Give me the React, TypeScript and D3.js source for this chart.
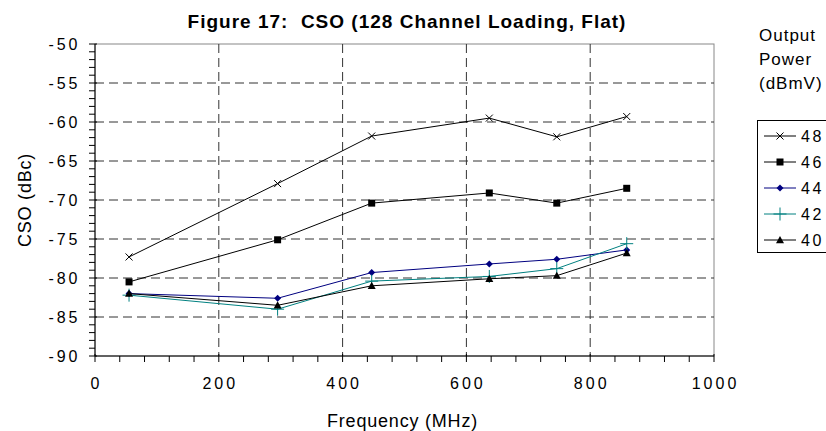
import React from "react";
import * as d3 from "d3";

const frequencies = [55, 295, 447, 637, 746, 859];
const seriesNames = ["48", "46", "44", "42", "40"];
const s48 = [-77.3, -67.9, -61.8, -59.5, -61.9, -59.3];
const s46 = [-80.5, -75.1, -70.4, -69.1, -70.4, -68.5];
const s44 = [-82.0, -82.6, -79.3, -78.2, -77.6, -76.4];
const s42 = [-82.2, -84.0, -80.4, -79.8, -78.8, -75.6];
const s40 = [-82.0, -83.5, -81.0, -80.1, -79.7, -76.8];
const seriesColors = ["#000000", "#000000", "#000080", "#008080", "#000000"];
const seriesMarkers = ["x", "square", "diamond", "plus", "triangle"];
const xTicks = [0, 200, 400, 600, 800, 1000];
const yTicks = [-90, -85, -80, -75, -70, -65, -60, -55, -50];

const W = 826, H = 431;
const m = { left: 95, right: 714, top: 44, bottom: 356 };
const font = "'Liberation Sans', Arial, sans-serif";

function Marker({ type, x, y, color }: { type: string; x: number; y: number; color: string }) {
  if (type === "x") {
    const s = 3.5;
    return <path d={`M${x - s},${y - s}L${x + s},${y + s}M${x - s},${y + s}L${x + s},${y - s}`} stroke={color} strokeWidth={1} fill="none" />;
  }
  if (type === "square") return <rect x={x - 3.5} y={y - 3.5} width={7} height={7} fill={color} />;
  if (type === "diamond") {
    const s = 3.5;
    return <path d={`M${x},${y - s}L${x + s},${y}L${x},${y + s}L${x - s},${y}Z`} fill={color} />;
  }
  if (type === "plus") {
    const s = 6.5;
    return <path d={`M${x - s},${y}L${x + s},${y}M${x},${y - s}L${x},${y + s}`} stroke={color} strokeWidth={1} fill="none" />;
  }
  const s = 4;
  return <path d={`M${x},${y - s}L${x + s},${y + s * 0.8}L${x - s},${y + s * 0.8}Z`} fill={color} />;
}

export default function App() {
  const x = d3.scaleLinear().domain([0, 1000]).range([m.left, m.right]);
  const y = d3.scaleLinear().domain([-90, -50]).range([m.bottom, m.top]);
  const allSeries = [s48, s46, s44, s42, s40];
  const line = d3.line<number>().x((_, i) => x(frequencies[i])).y((d) => y(d));
  const xMinor = d3.range(0, 1000.1, 40);
  const yMinor = d3.range(-90, -49.9, 1);
  const legendRows = [136, 162, 188, 214, 240];
  const tickLS = 3;

  return (
    <svg width={W} height={H} style={{ position: "absolute", left: 0, top: 0, background: "#fff" }} fontFamily={font}>
      <rect x={0} y={0} width={W} height={H} fill="#fff" />
      <text x={407} y={27.5} textAnchor="middle" fontSize={19} fontWeight="bold" letterSpacing={1}>
        {"Figure 17:\u00a0 CSO (128 Channel Loading, Flat)"}
      </text>
      {/* plot frame */}
      <rect x={m.left} y={m.top} width={m.right - m.left} height={m.bottom - m.top} fill="none" stroke="#888" strokeWidth={1} />
      {/* grid */}
      {yTicks.filter((t) => t > -90 && t < -50).map((t) => (
        <line key={"gy" + t} x1={m.left} x2={m.right} y1={y(t)} y2={y(t)} stroke="#333" strokeDasharray="9,5" strokeWidth={1} />
      ))}
      {xTicks.filter((t) => t > 0 && t < 1000).map((t) => (
        <line key={"gx" + t} x1={x(t)} x2={x(t)} y1={m.top} y2={m.bottom} stroke="#333" strokeDasharray="9,5" strokeWidth={1} />
      ))}
      {/* axes */}
      <line x1={m.left} x2={m.left} y1={m.top} y2={m.bottom} stroke="#000" />
      <line x1={m.left} x2={m.right} y1={m.bottom} y2={m.bottom} stroke="#000" />
      {yMinor.map((t) => (
        <line key={"ym" + t} x1={m.left - 6} x2={m.left + (t % 5 === 0 ? 2 : 0)} y1={y(t)} y2={y(t)} stroke="#000" />
      ))}
      {xMinor.map((t) => (
        <line key={"xm" + t} x1={x(t)} x2={x(t)} y1={m.bottom - (t % 200 === 0 ? 2 : 0)} y2={m.bottom + 6} stroke="#000" />
      ))}
      {yTicks.map((t) => (
        <text key={"yt" + t} x={80.5} y={y(t) + 5.8} textAnchor="end" fontSize={16} letterSpacing={tickLS}>
          {t}
        </text>
      ))}
      {xTicks.map((t) => (
        <text key={"xt" + t} x={x(t) + tickLS / 2} y={389} textAnchor="middle" fontSize={16} letterSpacing={tickLS}>
          {t}
        </text>
      ))}
      <text x={(m.left + m.right) / 2 - 2} y={426.5} textAnchor="middle" fontSize={18} letterSpacing={0.8}>
        Frequency (MHz)
      </text>
      <text transform={`translate(31,${(m.top + m.bottom) / 2}) rotate(-90)`} textAnchor="middle" fontSize={18} letterSpacing={0.8}>
        CSO (dBc)
      </text>
      {/* series */}
      {allSeries.map((s, si) => (
        <g key={"s" + si}>
          <path d={line(s) || ""} fill="none" stroke={seriesColors[si]} strokeWidth={1} />
          {s.map((v, i) => (
            <Marker key={i} type={seriesMarkers[si]} x={x(frequencies[i])} y={y(v)} color={seriesColors[si]} />
          ))}
        </g>
      ))}
      {/* legend */}
      <text fontSize={17} letterSpacing={1}>
        <tspan x={759} y={40.5}>Output</tspan>
        <tspan x={759} y={64.5}>Power</tspan>
        <tspan x={759} y={88.5}>(dBmV)</tspan>
      </text>
      <rect x={757.5} y={120.5} width={80} height={132} fill="#fff" stroke="#000" strokeWidth={1} />
      {seriesNames.map((n, i) => (
        <g key={"lg" + n}>
          <line x1={764} x2={796} y1={legendRows[i]} y2={legendRows[i]} stroke={seriesColors[i]} />
          <Marker type={seriesMarkers[i]} x={780} y={legendRows[i]} color={seriesColors[i]} />
          <text x={801} y={legendRows[i] + 6} fontSize={16} letterSpacing={2.5}>
            {n}
          </text>
        </g>
      ))}
    </svg>
  );
}
